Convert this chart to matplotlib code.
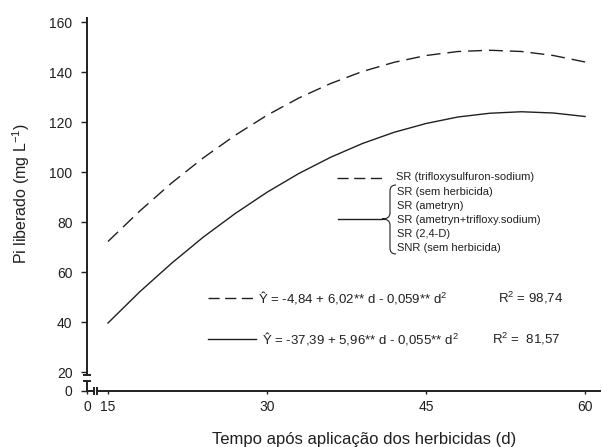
import numpy as np
import matplotlib
matplotlib.use('Agg')
import matplotlib.pyplot as plt
from matplotlib.path import Path
from matplotlib.patches import PathPatch
from matplotlib.lines import Line2D

plt.rcParams['font.family'] = ['Liberation Sans', 'DejaVu Sans']
plt.rcParams['mathtext.fontset'] = 'custom'
plt.rcParams['mathtext.rm'] = 'Liberation Sans'
plt.rcParams['mathtext.it'] = 'Liberation Sans:italic'

# values (days after application)
dias = [15, 18, 21, 24, 27, 30, 33, 36, 39, 42, 45, 48, 51, 54, 57, 60]
pi_trifloxy = [72.2, 84.4, 95.6, 105.7, 114.7, 122.7, 129.6, 135.4,
               140.2, 143.9, 146.6, 148.2, 148.7, 148.2, 146.6, 144.0]
pi_outros = [39.6, 52.1, 63.5, 74.0, 83.4, 91.9, 99.4, 105.9,
             111.4, 115.9, 119.4, 122.0, 123.5, 124.1, 123.6, 122.2]

xticks = [0, 15, 30, 45, 60]
yticks = [0, 20, 40, 60, 80, 100, 120, 140, 160]

legenda_trat = ['SR (sem herbicida)', 'SR (ametryn)', 'SR (ametryn+trifloxy.sodium)',
                'SR (2,4-D)', 'SNR (sem herbicida)']

cor = '#231f20'
W, H = 602, 447

# broken axes: compress 0-15 on x and 0-20 on y
kx = 0.132
ky = 0.38


def fwd_x(x):
    x = np.asarray(x, dtype=float)
    return np.where(x >= 15, x, 15 - (15 - x) * kx)


def inv_x(u):
    u = np.asarray(u, dtype=float)
    return np.where(u >= 15, u, 15 - (15 - u) / kx)


def fwd_y(y):
    y = np.asarray(y, dtype=float)
    return np.where(y >= 20, y, 20 - (20 - y) * ky)


def inv_y(u):
    u = np.asarray(u, dtype=float)
    return np.where(u >= 20, u, 20 - (20 - u) / ky)


def px(x, y):
    # pixel (from top-left) -> figure fraction
    return x / W, 1 - y / H


fig = plt.figure(figsize=(6.02, 4.47), dpi=100)
ax = fig.add_axes([87 / W, 56 / H, 514 / W, 374 / H])
ax.set_xscale('function', functions=(fwd_x, inv_x))
ax.set_yscale('function', functions=(fwd_y, inv_y))
ax.set_xlim(0, 61.5)
ax.set_ylim(0, 162)

ax.plot(dias, pi_trifloxy, color=cor, lw=1.0, dashes=(10, 5))
ax.plot(dias, pi_outros, color=cor, lw=1.0)

ax.set_xticks(xticks)
ax.set_xticklabels([str(t) for t in xticks])
ax.set_yticks(yticks)
ax.set_yticklabels([str(t) for t in yticks])
ax.minorticks_off()
ax.tick_params(axis='y', direction='out', length=4, width=1, color=cor,
               labelsize=10, labelcolor=cor, pad=6.5)
ax.tick_params(axis='x', direction='out', length=2.5, width=1, color=cor,
               labelsize=10, labelcolor=cor, pad=4)

for s in ax.spines.values():
    s.set_visible(False)

# axis lines with break marks
lw_ax = 1.4
gy0, gy1 = 10 / 374, 16 / 374
gx0, gx1 = 7 / 514, 10 / 514
cx, cy = 4 / 514, 4 / 374
segs = [([0, 0], [0, gy0]), ([0, 0], [gy1, 1]),
        ([-cx, cx], [gy0, gy0]), ([-cx, cx], [gy1, gy1]),
        ([0, gx0], [0, 0]), ([gx1, 1], [0, 0]),
        ([gx0, gx0], [-cy, cy]), ([gx1, gx1], [-cy, cy])]
for xs, ys in segs:
    ax.plot(xs, ys, transform=ax.transAxes, color=cor, lw=lw_ax,
            clip_on=False, solid_capstyle='butt')

ax.set_xlabel('Tempo após aplicação dos herbicidas (d)', fontsize=12, color=cor)
ax.xaxis.set_label_coords((364 - 87) / 514, -0.11)
ax.set_ylabel('Pi liberado (mg L$^{-1}$)', fontsize=11.5, color=cor)
ax.yaxis.set_label_coords(-0.107, (391 - 194) / 374)

# legend block
fig.add_artist(Line2D(*zip(px(337, 178), px(382, 178)), transform=fig.transFigure,
                      color=cor, lw=1.0, dashes=(8, 4)))
fig.text(*px(396, 177.5), 'SR (trifloxysulfuron-sodium)', fontsize=8, color=cor,
         va='center')
fig.add_artist(Line2D(*zip(px(338, 219), px(382, 219)), transform=fig.transFigure,
                      color=cor, lw=1.0))
for i, lab in enumerate(legenda_trat):
    fig.text(*px(397, 191.7 + i * 14.15), lab, fontsize=8, color=cor, va='center')

verts = [px(396, 185), px(390, 185), px(390, 191), px(390, 213),
         px(390, 219), px(382, 219), px(390, 219), px(390, 225),
         px(390, 248), px(390, 254), px(396, 254)]
codes = [Path.MOVETO, Path.CURVE3, Path.CURVE3, Path.LINETO,
         Path.CURVE3, Path.CURVE3, Path.CURVE3, Path.CURVE3,
         Path.LINETO, Path.CURVE3, Path.CURVE3]
fig.add_artist(PathPatch(Path(verts, codes), transform=fig.transFigure,
                         fill=False, edgecolor=cor, lw=0.8))

# equations
fig.add_artist(Line2D(*zip(px(208, 298), px(258, 298)), transform=fig.transFigure,
                      color=cor, lw=1.0, dashes=(8, 4)))
fig.text(*px(258, 302.5), 'Ŷ = -4,84 + 6,02** d - 0,059** d$^2$', fontsize=9.5,
         color=cor, va='baseline')
fig.text(*px(498, 302.5), 'R$^2$ = 98,74', fontsize=9.5, color=cor, va='baseline')
fig.add_artist(Line2D(*zip(px(208, 339), px(256, 339)), transform=fig.transFigure,
                      color=cor, lw=1.0))
fig.text(*px(262, 343.5), 'Ŷ = -37,39 + 5,96** d - 0,055** d$^2$', fontsize=9.5,
         color=cor, va='baseline')
fig.text(*px(492, 343.5), 'R$^2$ =  81,57', fontsize=9.5, color=cor, va='baseline')

fig.savefig('out.png', dpi=100)
